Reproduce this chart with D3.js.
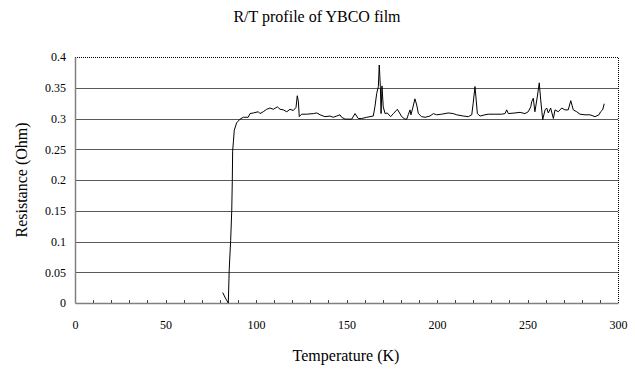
<!DOCTYPE html>
<html>
<head>
<meta charset="utf-8">
<script src="https://cdn.jsdelivr.net/npm/d3@7"></script>
<style>
  body { margin: 0; background: #fff; }
</style>
</head>
<body>
<div id="chart"></div>
<script>
// temperature (K) readings
const temps = [81.6, 83.1, 84.7, 85.2, 86.0, 86.6, 86.9, 87.1, 87.5, 88.0, 89.3, 91.2, 93.0, 95.7, 96.7,
  98.5, 101.3, 102.2, 104.0, 105.9, 107.7, 109.6, 111.8, 113.3, 115.1, 117.0, 118.8, 120.6, 122.1, 122.8,
  123.4, 123.9, 125.2, 128.0, 131.7, 133.6, 135.4, 138.1, 140.9, 142.7, 144.6, 146.4, 147.3, 149.2, 151.0,
  152.9, 154.7, 156.5, 158.4, 161.2, 163.0, 164.8, 165.7, 166.7, 167.6, 168.1, 168.7, 169.1, 169.6, 170.3,
  171.3, 172.5, 174.4, 175.9, 178.1, 180.5, 182.3, 183.3, 184.1, 185.1, 185.6, 186.6, 187.8, 188.8, 189.7,
  191.5, 193.4, 196.1, 198.0, 199.8, 202.6, 206.2, 209.0, 210.9, 214.5, 217.3, 219.2, 220.0, 221.0, 221.5,
  222.3, 223.8, 226.5, 228.3, 232.0, 235.7, 237.6, 238.5, 239.4, 243.1, 245.9, 248.6, 250.4, 251.8, 252.3,
  253.2, 254.1, 255.4, 256.5, 257.3, 258.4, 259.7, 260.6, 261.5, 262.8, 264.3, 265.2, 267.0, 268.9, 270.7,
  272.5, 273.9, 275.3, 277.2, 279.0, 281.8, 284.5, 287.3, 289.5, 290.4, 291.5, 292.4];

// resistance (Ohm) readings
const resist = [0.017, 0.008, 0.000, 0.054, 0.102, 0.150, 0.198, 0.247, 0.262, 0.281, 0.293, 0.299, 0.302, 0.302, 0.308,
  0.309, 0.311, 0.308, 0.311, 0.315, 0.317, 0.315, 0.319, 0.315, 0.314, 0.311, 0.315, 0.313, 0.318, 0.337,
  0.328, 0.303, 0.307, 0.307, 0.308, 0.309, 0.306, 0.303, 0.304, 0.302, 0.304, 0.306, 0.302, 0.299, 0.299,
  0.299, 0.308, 0.300, 0.300, 0.302, 0.303, 0.304, 0.319, 0.341, 0.352, 0.387, 0.352, 0.308, 0.353, 0.319,
  0.308, 0.309, 0.303, 0.308, 0.315, 0.303, 0.299, 0.299, 0.306, 0.314, 0.306, 0.317, 0.332, 0.322, 0.308,
  0.303, 0.302, 0.304, 0.308, 0.306, 0.307, 0.309, 0.308, 0.306, 0.304, 0.303, 0.306, 0.325, 0.352, 0.335,
  0.308, 0.304, 0.306, 0.307, 0.307, 0.307, 0.308, 0.314, 0.308, 0.309, 0.310, 0.308, 0.311, 0.319, 0.327,
  0.333, 0.311, 0.335, 0.358, 0.330, 0.298, 0.314, 0.317, 0.309, 0.317, 0.300, 0.314, 0.311, 0.317, 0.314,
  0.314, 0.329, 0.314, 0.311, 0.307, 0.306, 0.306, 0.303, 0.306, 0.311, 0.314, 0.324];

const xTicks = [0, 50, 100, 150, 200, 250, 300];
const yTicks = [0, 0.05, 0.1, 0.15, 0.2, 0.25, 0.3, 0.35, 0.4];

const title = "R/T profile of YBCO film";
const xTitle = "Temperature (K)";
const yTitle = "Resistance (Ohm)";

const serif = "'Liberation Serif', 'Times New Roman', serif";

const width = 635, height = 371;
const margin = { top: 57, right: 17, bottom: 68, left: 75 };
const innerW = width - margin.left - margin.right;
const innerH = height - margin.top - margin.bottom;

const svg = d3.select("#chart").append("svg")
  .attr("width", width)
  .attr("height", height);

const chart = svg.append("g")
  .attr("transform", `translate(${margin.left},${margin.top})`);

const x = d3.scaleLinear().domain([0, 300]).range([0, innerW]);
const y = d3.scaleLinear().domain([0, 0.4]).range([innerH, 0]);

// gridlines (top one is part of the dotted frame)
chart.selectAll(".grid")
  .data(yTicks.filter(d => d > 0 && d < 0.4))
  .join("line")
    .attr("class", "grid")
    .attr("x1", 0).attr("x2", innerW)
    .attr("y1", d => Math.round(y(d)) + 0.5)
    .attr("y2", d => Math.round(y(d)) + 0.5)
    .attr("stroke", "#5a5a5a")
    .attr("stroke-width", 1.2);

// dotted plot-area border on top and right
chart.append("path")
  .attr("d", `M0,0.5H${innerW + 0.5}V${innerH}`)
  .attr("fill", "none")
  .attr("stroke", "#000")
  .attr("stroke-width", 1)
  .attr("stroke-dasharray", "1,1");

// x axis
const xAxis = chart.append("g")
  .attr("transform", `translate(0,${innerH})`)
  .call(d3.axisBottom(x).tickValues(xTicks).tickSize(0).tickPadding(17)
    .tickFormat(d3.format("d")));
xAxis.attr("font-family", serif).attr("font-size", 12);
xAxis.select(".domain").attr("stroke", "#808080").attr("stroke-width", 1.5);

// minor ticks every 10 K, pointing up
chart.append("g").selectAll("line")
  .data(d3.range(10, 300, 10))
  .join("line")
    .attr("x1", d => Math.round(x(d)) + 0.5)
    .attr("x2", d => Math.round(x(d)) + 0.5)
    .attr("y1", innerH)
    .attr("y2", innerH - 3)
    .attr("stroke", "#444");

// y axis
const yAxis = chart.append("g")
  .call(d3.axisLeft(y).tickValues(yTicks).tickSize(0).tickPadding(9)
    .tickFormat(d => d === 0 ? "0" : String(+d.toFixed(2))));
yAxis.attr("font-family", serif).attr("font-size", 12);
yAxis.select(".domain").attr("stroke", "#808080").attr("stroke-width", 1.5);

// data line
const line = d3.line()
  .x((d, i) => x(temps[i]))
  .y(d => y(d));

chart.append("path")
  .datum(resist)
  .attr("d", line)
  .attr("fill", "none")
  .attr("stroke", "#000")
  .attr("stroke-width", 1);

// titles
svg.append("text")
  .attr("x", 317).attr("y", 22)
  .attr("text-anchor", "middle")
  .attr("font-family", serif)
  .attr("font-size", 16)
  .text(title);

svg.append("text")
  .attr("x", 346).attr("y", 361)
  .attr("text-anchor", "middle")
  .attr("font-family", serif)
  .attr("font-size", 16)
  .text(xTitle);

svg.append("text")
  .attr("transform", "translate(27,180) rotate(-90)")
  .attr("text-anchor", "middle")
  .attr("font-family", serif)
  .attr("font-size", 16)
  .text(yTitle);
</script>
</body>
</html>
